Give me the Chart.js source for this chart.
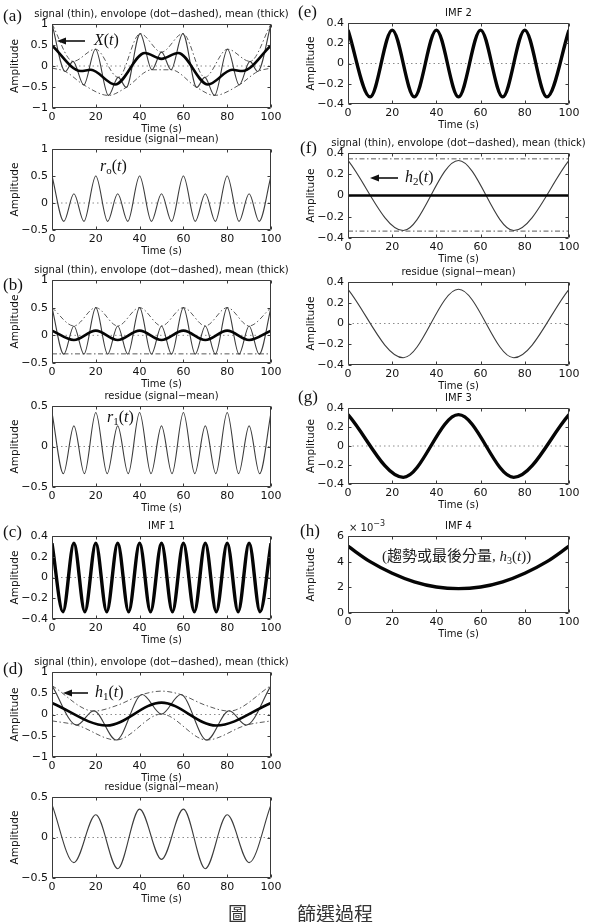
<!DOCTYPE html>
<html>
<head>
<meta charset="utf-8">
<script src="https://cdn.jsdelivr.net/npm/chart.js@4.4.1/dist/chart.umd.min.js"></script>
<style>
  html, body { margin: 0; padding: 0; background: #fff; }
  #page { position: relative; width: 589px; height: 922px; overflow: hidden; background: #fff; }
  #page canvas { position: absolute; }
  .pl { position: absolute; font-family: 'Liberation Serif', 'Times New Roman', serif; font-size: 17px; line-height: 1; color: #111; }
  .math { position: absolute; font-family: 'Liberation Serif', 'Times New Roman', serif; font-size: 16px; line-height: 1; color: #111; white-space: nowrap; }
  .math sub { font-size: 11px; vertical-align: -3px; line-height: 0; }
  .exp { position: absolute; font-family: 'DejaVu Sans', sans-serif; font-size: 10px; line-height: 1; color: #1a1a1a; white-space: nowrap; }
  .exp sup { font-size: 8px; vertical-align: 5px; line-height: 0; }
  .note { position: absolute; font-family: 'Liberation Serif', 'Noto Sans CJK TC', serif; font-size: 15px; line-height: 1; color: #222; white-space: nowrap; }
  .cap { position: absolute; font-family: 'Noto Sans CJK TC', sans-serif; font-size: 19px; line-height: 1; color: #333; white-space: nowrap; }
</style>
</head>
<body>
<div id="page">
  <div class="pl" style="left:3px;top:7px">(a)</div>
  <div class="pl" style="left:3px;top:276px">(b)</div>
  <div class="pl" style="left:3px;top:523px">(c)</div>
  <div class="pl" style="left:3px;top:660px">(d)</div>
  <div class="pl" style="left:298px;top:3px">(e)</div>
  <div class="pl" style="left:300px;top:139px">(f)</div>
  <div class="pl" style="left:298px;top:388px">(g)</div>
  <div class="pl" style="left:300px;top:522px">(h)</div>

  <div class="math" style="left:94px;top:32px"><i>X</i>(<i>t</i>)</div>
  <div class="math" style="left:100px;top:158px"><i>r</i><sub>o</sub>(<i>t</i>)</div>
  <div class="math" style="left:107px;top:409px"><i>r</i><sub>1</sub>(<i>t</i>)</div>
  <div class="math" style="left:95px;top:684px"><i>h</i><sub>1</sub>(<i>t</i>)</div>
  <div class="math" style="left:405px;top:169px"><i>h</i><sub>2</sub>(<i>t</i>)</div>
  <div class="note" style="left:382px;top:549px">(趨勢或最後分量, <i>h</i><sub style="font-size:10px;vertical-align:-3px;line-height:0">3</sub>(<i>t</i>))</div>
  <div class="exp" style="left:349px;top:523px">× 10<sup>−3</sup></div>

  <div class="cap" style="left:228px;top:903px">圖</div>
  <div class="cap" style="left:297px;top:903px">篩選過程</div>

  <svg width="589" height="922" style="position:absolute;left:0;top:0;pointer-events:none">
    <g stroke="#111" stroke-width="1.6" fill="#111">
      <line x1="85" y1="41" x2="64" y2="41"/>
      <polygon points="57,41 66,37.5 66,44.5" stroke="none"/>
      <line x1="88" y1="693" x2="70" y2="693"/>
      <polygon points="63,693 72,689.5 72,696.5" stroke="none"/>
      <line x1="398" y1="178" x2="377" y2="178"/>
      <polygon points="370,178 379,174.5 379,181.5" stroke="none"/>
    </g>
  </svg>
</div>

<script>
// time axis ticks shared by every panel
const timeTicks = [0, 20, 40, 60, 80, 100];

// amplitude ticks
const ticksOne = [-1, -0.5, 0, 0.5, 1];
const ticksRes = [-0.5, 0, 0.5, 1];
const ticksHalf = [-0.5, 0, 0.5];
const ticksImf = [-0.4, -0.2, 0, 0.2, 0.4];
const ticksTrend = [0, 0.002, 0.004, 0.006];

// dotted zero line
const zeroT = [0, 100];
const zeroY = [0, 0];

// (a) original signal X(t), read at its turning points
const xSigT = [0, 6.05, 9.6, 14.5, 19.85, 25.8, 30.25, 33.9, 40.25, 45.6, 50, 54.4, 59.75, 66.1, 69.75, 74.2, 80.15, 85.5, 90.4, 93.95, 100];
const xSigY = [1.0, -0.13, 0.11, -0.45, 0.4, -0.7, -0.27, -0.51, 0.77, -0.09, 0.33, -0.09, 0.77, -0.51, -0.27, -0.7, 0.4, -0.45, 0.11, -0.13, 1.0];
const xUpT = [0, 9.6, 19.85, 30.25, 40.25, 50, 59.75, 69.75, 80.15, 90.4, 100];
const xUpY = [1.0, 0.11, 0.4, -0.27, 0.77, 0.33, 0.77, -0.27, 0.4, 0.11, 1.0];
const xLoT = [0, 6.05, 14.5, 25.8, 33.9, 45.6, 54.4, 66.1, 74.2, 85.5, 93.95, 100];
const xLoY = [-0.05, -0.13, -0.45, -0.7, -0.51, -0.09, -0.09, -0.51, -0.7, -0.45, -0.13, -0.05];
const xMeanT = [0, 13.1, 17.7, 28.8, 42.4, 50, 57.6, 71.2, 82.3, 86.9, 100];
const xMeanY = [0.49, -0.12, -0.09, -0.44, 0.31, 0.17, 0.31, -0.44, -0.09, -0.12, 0.49];

// residue r0(t), also the signal sifted in (b)
const r0T = [0, 5.4, 10, 14.6, 20, 25.4, 30, 34.6, 40, 45.4, 50, 54.6, 60, 65.4, 70, 74.6, 80, 85.4, 90, 94.6, 100];
const r0Y = [0.5, -0.34, 0.17, -0.34, 0.5, -0.34, 0.17, -0.34, 0.5, -0.34, 0.17, -0.34, 0.5, -0.34, 0.17, -0.34, 0.5, -0.34, 0.17, -0.34, 0.5];

// (b) envelopes and mean
const r0UpT = [0, 10, 20, 30, 40, 50, 60, 70, 80, 90, 100];
const r0UpY = [0.5, 0.17, 0.5, 0.17, 0.5, 0.17, 0.5, 0.17, 0.5, 0.17, 0.5];
const r0LoT = [0, 100];
const r0LoY = [-0.335, -0.335];
const r0MeanT = [0, 10, 20, 30, 40, 50, 60, 70, 80, 90, 100];
const r0MeanY = [0.085, -0.085, 0.085, -0.085, 0.085, -0.085, 0.085, -0.085, 0.085, -0.085, 0.085];

// residue r1(t)
const r1T = [0, 5.2, 10, 14.8, 20, 25.2, 30, 34.8, 40, 45.2, 50, 54.8, 60, 65.2, 70, 74.8, 80, 85.2, 90, 94.8, 100];
const r1Y = [0.42, -0.335, 0.255, -0.335, 0.42, -0.335, 0.255, -0.335, 0.42, -0.335, 0.255, -0.335, 0.42, -0.335, 0.255, -0.335, 0.42, -0.335, 0.255, -0.335, 0.42];

// (c) IMF 1
const imf1T = [0, 5, 10, 15, 20, 25, 30, 35, 40, 45, 50, 55, 60, 65, 70, 75, 80, 85, 90, 95, 100];
const imf1Y = [0.33, -0.33, 0.33, -0.33, 0.33, -0.33, 0.33, -0.33, 0.33, -0.33, 0.33, -0.33, 0.33, -0.33, 0.33, -0.33, 0.33, -0.33, 0.33, -0.33, 0.33];

// (d) h1(t) with envelopes, mean and residue
const h1T = [0, 11.3, 19.1, 29.3, 41.2, 50, 58.8, 70.7, 80.9, 88.7, 100];
const h1Y = [0.68, -0.25, 0.09, -0.6, 0.47, 0.01, 0.47, -0.6, 0.09, -0.25, 0.68];
const h1UpT = [0, 19.1, 30, 41.2, 50, 58.8, 70, 80.9, 100];
const h1UpY = [0.68, 0.08, 0.22, 0.47, 0.55, 0.47, 0.22, 0.08, 0.68];
const h1LoT = [0, 11.3, 29.3, 50, 70.7, 88.7, 100];
const h1LoY = [-0.15, -0.25, -0.6, 0.01, -0.6, -0.25, -0.15];
const h1MeanT = [0, 25, 50, 75, 100];
const h1MeanY = [0.27, -0.26, 0.28, -0.26, 0.27];
const h1ResT = [0, 10, 20, 30, 40, 50, 60, 70, 80, 90, 100];
const h1ResY = [0.405, -0.31, 0.28, -0.385, 0.35, -0.27, 0.35, -0.385, 0.28, -0.31, 0.405];

// (e) IMF 2
const imf2T = [0, 10, 20, 30, 40, 50, 60, 70, 80, 90, 100];
const imf2Y = [0.33, -0.33, 0.33, -0.33, 0.33, -0.33, 0.33, -0.33, 0.33, -0.33, 0.33];

// (f) h2(t), its residue and (g) IMF 3 share the same slow wave
const slowT = [0, 25, 50, 75, 100];
const slowY = [0.33, -0.33, 0.33, -0.33, 0.33];
const h2UpT = [0, 100];
const h2UpY = [0.345, 0.345];
const h2LoT = [0, 100];
const h2LoY = [-0.335, -0.335];
const h2MeanT = [0, 100];
const h2MeanY = [0, 0];

// (h) IMF 4 (trend)
const trendT = [0, 10, 20, 30, 40, 50, 60, 70, 80, 90, 100];
const trendY = [0.0052, 0.0040, 0.0031, 0.00243, 0.00203, 0.0019, 0.00203, 0.00243, 0.0031, 0.0040, 0.0052];

const TITLE_SIFT = 'signal (thin), envolope (dot\u2212dashed), mean (thick)';
const TITLE_RES = 'residue (signal\u2212mean)';

const styles = {
  thin: { borderColor: '#3c3c3c', borderWidth: 1.1 },
  env: { borderColor: '#5a5a5a', borderWidth: 1, borderDash: [5, 2.5, 1.5, 2.5] },
  mean: { borderColor: '#050505', borderWidth: 2.6 },
  imf: { borderColor: '#050505', borderWidth: 3.4 },
  zero: { borderColor: '#8c8c8c', borderWidth: 1, borderDash: [1.5, 3] }
};

const panels = [
  { box: [52, 24, 271, 108], title: TITLE_SIFT, ticks: ticksOne, lines: [
    ['mean', xMeanT, xMeanY], ['thin', xSigT, xSigY], ['env', xUpT, xUpY], ['env', xLoT, xLoY], ['zero', zeroT, zeroY]] },
  { box: [52, 149, 271, 230], title: TITLE_RES, ticks: ticksRes, lines: [
    ['thin', r0T, r0Y], ['zero', zeroT, zeroY]] },
  { box: [52, 280, 271, 363], title: TITLE_SIFT, ticks: ticksRes, lines: [
    ['mean', r0MeanT, r0MeanY], ['thin', r0T, r0Y], ['env', r0UpT, r0UpY], ['env', r0LoT, r0LoY], ['zero', zeroT, zeroY]] },
  { box: [52, 406, 271, 487], title: TITLE_RES, ticks: ticksHalf, lines: [
    ['thin', r1T, r1Y], ['zero', zeroT, zeroY]] },
  { box: [52, 536, 271, 619], title: 'IMF 1', ticks: ticksImf, lines: [
    ['imf', imf1T, imf1Y], ['zero', zeroT, zeroY]] },
  { box: [52, 672, 271, 757], title: TITLE_SIFT, ticks: ticksOne, lines: [
    ['mean', h1MeanT, h1MeanY], ['thin', h1T, h1Y], ['env', h1UpT, h1UpY], ['env', h1LoT, h1LoY], ['zero', zeroT, zeroY]] },
  { box: [52, 797, 271, 878], title: TITLE_RES, ticks: ticksHalf, lines: [
    ['thin', h1ResT, h1ResY], ['zero', zeroT, zeroY]] },
  { box: [348, 23, 569, 104], title: 'IMF 2', ticks: ticksImf, lines: [
    ['imf', imf2T, imf2Y], ['zero', zeroT, zeroY]] },
  { box: [348, 153, 569, 238], title: TITLE_SIFT, ticks: ticksImf, lines: [
    ['mean', h2MeanT, h2MeanY], ['thin', slowT, slowY], ['env', h2UpT, h2UpY], ['env', h2LoT, h2LoY]] },
  { box: [348, 282, 569, 365], title: TITLE_RES, ticks: ticksImf, lines: [
    ['thin', slowT, slowY], ['zero', zeroT, zeroY]] },
  { box: [348, 408, 569, 484], title: 'IMF 3', ticks: ticksImf, lines: [
    ['imf', slowT, slowY], ['zero', zeroT, zeroY]] },
  { box: [348, 536, 569, 613], title: 'IMF 4', ticks: ticksTrend, factor: 1000, lines: [
    ['imf', trendT, trendY]] }
];

Chart.defaults.font.family = "'DejaVu Sans', sans-serif";
Chart.defaults.color = '#1a1a1a';

function fmt(v) {
  const r = Math.round(v * 1000) / 1000;
  return (r < 0 ? '\u2212' : '') + String(Math.abs(r));
}

// MATLAB style box with inward tick marks on all four sides, plus the
// panel title centred over the plot box (not squeezed to its width)
const framePlugin = {
  id: 'frame',
  afterDatasetsDraw(chart, args, opts) {
    const { ctx, chartArea: a, scales: { x, y } } = chart;
    const L = Math.round(a.left) + 0.5, R = Math.round(a.right) - 0.5;
    const T = Math.round(a.top) + 0.5, B = Math.round(a.bottom) - 0.5;
    ctx.save();
    ctx.strokeStyle = '#3a3a3a';
    ctx.lineWidth = 1;
    ctx.beginPath();
    ctx.rect(L, T, R - L, B - T);
    x.ticks.forEach(tk => {
      const px = Math.round(x.getPixelForValue(tk.value)) + 0.5;
      ctx.moveTo(px, B); ctx.lineTo(px, B - 3);
      ctx.moveTo(px, T); ctx.lineTo(px, T + 3);
    });
    y.ticks.forEach(tk => {
      const py = Math.round(y.getPixelForValue(tk.value)) + 0.5;
      ctx.moveTo(L, py); ctx.lineTo(L + 3, py);
      ctx.moveTo(R, py); ctx.lineTo(R - 3, py);
    });
    ctx.stroke();

    if (opts.title) {
      ctx.fillStyle = '#111';
      ctx.font = "10px 'DejaVu Sans', sans-serif";
      ctx.textAlign = 'center';
      ctx.textBaseline = 'middle';
      ctx.fillText(opts.title, (a.left + a.right) / 2, a.top - 10);
    }
    ctx.restore();
  }
};

function makeConfig(p) {
  const datasets = p.lines.map(([kind, ts, ys]) => Object.assign({
    data: ts.map((t, i) => ({ x: t, y: ys[i] })),
    pointRadius: 0,
    fill: false,
    cubicInterpolationMode: 'monotone'
  }, styles[kind]));
  const f = p.factor || 1;
  return {
    type: 'line',
    data: { datasets },
    options: {
      responsive: false,
      animation: false,
      events: [],
      // right padding leaves room for the long titles that overhang the box
      layout: { padding: { top: 17, right: 18, left: 0, bottom: 0 } },
      plugins: {
        legend: { display: false },
        tooltip: { enabled: false },
        title: { display: false },
        frame: { title: p.title }
      },
      scales: {
        x: {
          type: 'linear', min: 0, max: 100,
          afterBuildTicks: s => { s.ticks = timeTicks.map(v => ({ value: v })); },
          afterFit: s => { s.height = 27; },
          grid: { display: false, drawTicks: false },
          border: { display: false },
          ticks: { padding: 3, autoSkip: false, maxRotation: 0, font: { size: 11 }, color: '#111', callback: v => fmt(v) },
          title: { display: true, text: 'Time (s)', font: { size: 10 }, color: '#111', padding: 0 }
        },
        y: {
          type: 'linear', min: p.ticks[0], max: p.ticks[p.ticks.length - 1],
          afterBuildTicks: s => { s.ticks = p.ticks.map(v => ({ value: v })); },
          afterFit: s => { s.width = 43; },
          grid: { display: false, drawTicks: false },
          border: { display: false },
          ticks: { padding: 4, autoSkip: false, font: { size: 11 }, color: '#111', callback: v => fmt(v * f) },
          title: { display: true, text: 'Amplitude', font: { size: 10.5 }, color: '#111', padding: 0 }
        }
      }
    },
    plugins: [framePlugin]
  };
}

const page = document.getElementById('page');

function placeChart(p) {
  const [l, t, r, b] = p.box;
  // first pass: measure how much room the axes take
  const probe = document.createElement('canvas');
  const w0 = (r - l) + 80, h0 = (b - t) + 50;
  probe.width = w0; probe.height = h0;
  page.appendChild(probe);
  const c0 = new Chart(probe, makeConfig(p));
  const a0 = c0.chartArea;
  const w = Math.round(w0 + (r - l) - (a0.right - a0.left));
  const h = Math.round(h0 + (b - t) - (a0.bottom - a0.top));
  c0.destroy();
  probe.remove();

  // second pass: real canvas, moved so the plot box lands on the target
  const cv = document.createElement('canvas');
  cv.width = w; cv.height = h;
  page.insertBefore(cv, page.firstChild);
  const chart = new Chart(cv, makeConfig(p));
  const a = chart.chartArea;
  cv.style.left = Math.round(l - a.left) + 'px';
  cv.style.top = Math.round(t - a.top) + 'px';
}

panels.forEach(placeChart);
</script>
</body>
</html>
